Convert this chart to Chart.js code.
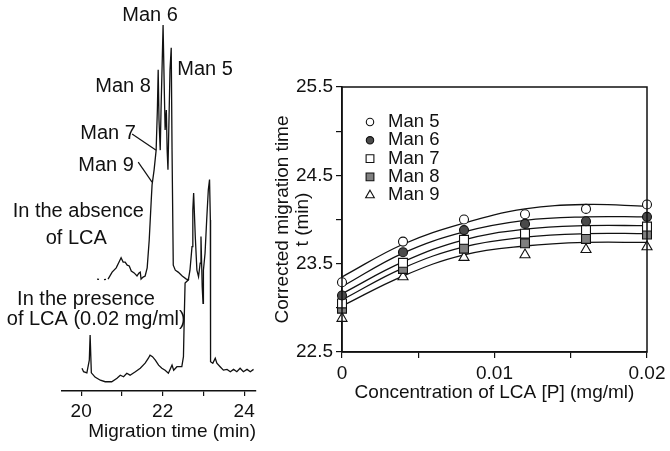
<!DOCTYPE html>
<html>
<head>
<meta charset="utf-8">
<script src="https://cdn.jsdelivr.net/npm/chart.js@4.4.0/dist/chart.umd.min.js"></script>
<style>
  html, body { margin: 0; padding: 0; background: #fff; }
  #left { position: absolute; left: 0; top: 0; width: 270px; height: 451px; }
  #right { position: absolute; left: 270px; top: 0; width: 400px; height: 451px; }
</style>
</head>
<body>
<div id="left"><canvas id="elect"></canvas></div>
<div id="right"><canvas id="fit"></canvas></div>
<script>
// --- left panel: electropherograms (signal in arbitrary units) ---
var absenceTime = [20.39, 20.54, 20.66, 20.76, 20.86, 20.93, 20.98, 21.03, 21.08, 21.13, 21.18, 21.23, 21.30, 21.37, 21.42, 21.45, 21.47, 21.52, 21.57, 21.62, 21.67, 21.72, 21.74, 21.79, 21.84, 21.87, 21.89, 21.91, 21.94, 21.96, 21.99, 22.01, 22.04, 22.06, 22.09, 22.11, 22.13, 22.16, 22.18, 22.21, 22.23, 22.26, 22.31, 22.38, 22.48, 22.58, 22.65];
var absenceSignal = [29.0, 28.8, 29.0, 30.8, 31.9, 33.4, 34.5, 33.4, 33.4, 32.6, 32.4, 31.1, 30.6, 29.8, 30.6, 30.8, 29.0, 29.5, 29.8, 31.9, 39.1, 49.5, 53.4, 57.3, 62.4, 72.8, 83.2, 70.2, 62.4, 72.8, 85.8, 94.8, 78.0, 67.6, 72.8, 62.4, 57.3, 72.8, 83.2, 88.9, 62.4, 32.6, 31.3, 30.8, 29.8, 29.0, 28.8];

var presenceTime = [20.02, 20.06, 20.14, 20.20, 20.22, 20.25, 20.30, 20.34, 20.47, 20.59, 20.75, 20.88, 20.96, 21.04, 21.12, 21.20, 21.33, 21.45, 21.57, 21.65, 21.69, 21.75, 21.82, 21.90, 21.98, 22.06, 22.14, 22.23, 22.27, 22.35, 22.47, 22.51, 22.53, 22.55, 22.63, 22.67, 22.72, 22.74, 22.76, 22.80, 22.84, 22.88, 22.92, 22.94, 22.97, 22.99, 23.00, 23.04, 23.08, 23.12, 23.15, 23.17, 23.17, 23.18, 23.23, 23.29, 23.33, 23.41, 23.49, 23.58, 23.66, 23.74, 23.82, 23.90, 23.98, 24.07, 24.15, 24.23];
var presenceSignal = [5.9, 5.0, 4.7, 8.0, 14.5, 4.7, 4.1, 3.6, 2.8, 2.4, 2.4, 3.3, 4.1, 3.7, 4.6, 4.1, 5.0, 5.9, 7.2, 8.5, 9.3, 8.9, 8.0, 6.7, 5.9, 5.4, 4.6, 6.7, 5.4, 6.3, 6.3, 8.9, 19.2, 28.0, 28.8, 31.3, 37.4, 46.9, 51.3, 40.0, 31.3, 29.6, 33.1, 40.0, 27.0, 22.7, 31.3, 35.7, 44.3, 52.1, 54.8, 44.3, 22.8, 7.6, 7.2, 8.5, 7.2, 6.3, 5.4, 5.6, 5.0, 5.6, 5.0, 5.9, 5.0, 5.6, 5.0, 5.6];

var timeTicks = [20, 21, 22, 23, 24];
var timeTickLabels = ['20', '', '22', '', '24'];

var noteTexts = ['Man 6', 'Man 5', 'Man 8', 'Man 7', 'Man 9', 'In the absence', 'of LCA', 'In the presence', 'of LCA (0.02 mg/ml)'];
var noteTime = [21.69, 23.04, 21.03, 20.66, 20.61, 19.93, 19.88, 20.12, 20.37];
var noteSignal = [97.2, 83.2, 78.8, 66.8, 58.5, 46.6, 39.6, 23.6, 18.4];
// pointers from "Man 7" and "Man 9" to their shoulders
var pointerStart = [[21.25, 66.6], [21.40, 59.3]];
var pointerEnd = [[21.84, 62.4], [21.74, 54.1]];

// --- right panel: corrected migration time vs LCA concentration ---
var lcaConc = [0, 0.004, 0.008, 0.012, 0.016, 0.02];
var seriesNames = ['Man 5', 'Man 6', 'Man 7', 'Man 8', 'Man 9'];
var man5 = [23.29, 23.75, 24.00, 24.06, 24.12, 24.17];
var man6 = [23.14, 23.63, 23.88, 23.95, 23.98, 24.03];
var man7 = [23.05, 23.51, 23.77, 23.84, 23.88, 23.92];
var man8 = [22.99, 23.44, 23.67, 23.73, 23.78, 23.83];
var man9 = [22.88, 23.35, 23.57, 23.60, 23.66, 23.69];
// fitted curves
var fit5 = [23.35, 23.72, 23.96, 24.12, 24.17, 24.15];
var fit6 = [23.24, 23.62, 23.86, 23.99, 24.03, 24.03];
var fit7 = [23.16, 23.52, 23.77, 23.89, 23.93, 23.93];
var fit8 = [23.09, 23.45, 23.69, 23.80, 23.84, 23.84];
var fit9 = [23.02, 23.36, 23.60, 23.70, 23.74, 23.74];

var concTicks = [0, 0.005, 0.01, 0.015, 0.02];
var concTickLabels = ['0', '', '0.01', '', '0.02'];
var timeAxisTicks = [22.5, 23, 23.5, 24, 24.5, 25, 25.5];
var timeAxisLabels = ['22.5', '', '23.5', '', '24.5', '', '25.5'];

var FONT = '"Liberation Sans", Arial, sans-serif';
var INK = '#111';
Chart.defaults.font.family = FONT;
Chart.defaults.color = INK;

function pts(xs, ys) {
  return xs.map(function(x, i) { return { x: x, y: ys[i] }; });
}

// labels + pointer lines on the electropherograms
var traceNotes = {
  id: 'traceNotes',
  afterDatasetsDraw: function(chart) {
    var ctx = chart.ctx, xs = chart.scales.x, ys = chart.scales.y;
    ctx.save();
    ctx.fillStyle = INK;
    ctx.font = '20px ' + FONT;
    ctx.textAlign = 'center';
    ctx.textBaseline = 'middle';
    noteTexts.forEach(function(t, i) {
      ctx.fillText(t, xs.getPixelForValue(noteTime[i]), ys.getPixelForValue(noteSignal[i]));
    });
    ctx.strokeStyle = INK;
    ctx.lineWidth = 1.2;
    pointerStart.forEach(function(p, i) {
      ctx.beginPath();
      ctx.moveTo(xs.getPixelForValue(p[0]), ys.getPixelForValue(p[1]));
      ctx.lineTo(xs.getPixelForValue(pointerEnd[i][0]), ys.getPixelForValue(pointerEnd[i][1]));
      ctx.stroke();
    });
    ctx.restore();
  }
};

new Chart(document.getElementById('elect'), {
  type: 'line',
  data: {
    datasets: [{
      data: pts(absenceTime, absenceSignal),
      borderColor: INK, borderWidth: 1.3, pointRadius: 0, tension: 0,
      segment: { borderDash: function(c) { return c.p0DataIndex < 2 ? [2, 5] : undefined; } }
    }, {
      data: pts(presenceTime, presenceSignal),
      borderColor: INK, borderWidth: 1.3, pointRadius: 0, tension: 0
    }]
  },
  options: {
    responsive: true, maintainAspectRatio: false, animation: false, devicePixelRatio: 1,
    layout: { padding: { left: 62, right: 14, top: 5, bottom: 0 } },
    plugins: { legend: { display: false }, tooltip: { enabled: false } },
    scales: {
      x: {
        type: 'linear', min: 19.53, max: 24.29,
        afterBuildTicks: function(s) { s.ticks = timeTicks.map(function(v) { return { value: v }; }); },
        afterFit: function(s) { s.height = 60; },
        border: { display: true, color: INK, width: 1.5 },
        grid: { drawOnChartArea: false, drawTicks: true, tickLength: 5, color: INK, lineWidth: 1.2 },
        ticks: {
          padding: 4, maxRotation: 0, autoSkip: false, font: { size: 19 },
          callback: function(v, i) { return timeTickLabels[i]; }
        },
        title: { display: true, text: 'Migration time (min)', align: 'end', font: { size: 19 }, padding: { top: 0, bottom: 8 } }
      },
      y: { display: false, min: 0, max: 100 }
    }
  },
  plugins: [traceNotes]
});

// box around the plot and the in-plot legend
var boxAndLegend = {
  id: 'boxAndLegend',
  afterDraw: function(chart) {
    var ctx = chart.ctx, a = chart.chartArea;
    ctx.save();
    ctx.strokeStyle = INK;
    ctx.lineWidth = 1.5;
    ctx.strokeRect(a.left, a.top, a.right - a.left, a.bottom - a.top);
    ctx.font = '18.5px ' + FONT;
    ctx.textAlign = 'left';
    ctx.textBaseline = 'middle';
    for (var i = 0; i < seriesNames.length; i++) {
      var ds = chart.data.datasets[i];
      var px = a.left + 28, py = a.top + 35 + i * 18.3;
      ctx.fillStyle = ds.pointBackgroundColor;
      ctx.strokeStyle = INK;
      ctx.lineWidth = 1.1;
      Chart.helpers.drawPoint(ctx, { pointStyle: ds.pointStyle, radius: ds.pointRadius - 0.8, rotation: 0, borderWidth: 1.1 }, px, py);
      ctx.fillStyle = INK;
      ctx.fillText(seriesNames[i], a.left + 46, py);
    }
    ctx.restore();
  }
};

var markerStyle = [
  { style: 'circle', fill: '#ffffff', r: 4.5 },
  { style: 'circle', fill: '#4a4a4a', r: 4.5 },
  { style: 'rect', fill: '#ffffff', r: 6.3 },
  { style: 'rect', fill: '#808080', r: 6.3 },
  { style: 'triangle', fill: '#ffffff', r: 5.8 }
];
var pointSeries = [man5, man6, man7, man8, man9];
var fitSeries = [fit5, fit6, fit7, fit8, fit9];

var datasets = [];
pointSeries.forEach(function(s, i) {
  datasets.push({
    type: 'scatter', label: seriesNames[i], data: pts(lcaConc, s),
    pointStyle: markerStyle[i].style, pointRadius: markerStyle[i].r,
    pointBackgroundColor: markerStyle[i].fill, pointBorderColor: INK, pointBorderWidth: 1.1,
    clip: false
  });
});
fitSeries.forEach(function(s, i) {
  datasets.push({
    type: 'line', label: seriesNames[i] + ' fit', data: pts(lcaConc, s),
    borderColor: INK, borderWidth: 1.3, pointRadius: 0, fill: false,
    tension: 0.4
  });
});

new Chart(document.getElementById('fit'), {
  type: 'scatter',
  data: { datasets: datasets },
  options: {
    responsive: true, maintainAspectRatio: false, animation: false, devicePixelRatio: 1,
    layout: { padding: { left: 0, right: 23, top: 87, bottom: 39 } },
    plugins: { legend: { display: false }, tooltip: { enabled: false } },
    scales: {
      x: {
        type: 'linear', min: 0, max: 0.02,
        afterBuildTicks: function(s) { s.ticks = concTicks.map(function(v) { return { value: v }; }); },
        afterFit: function(s) { s.height = 60; },
        border: { display: true, color: INK, width: 1.5 },
        grid: { drawOnChartArea: false, drawTicks: true, tickLength: 6, color: INK, lineWidth: 1.2 },
        ticks: {
          padding: 4, maxRotation: 0, autoSkip: false, font: { size: 19 },
          callback: function(v, i) { return concTickLabels[i]; }
        },
        title: { display: true, text: 'Concentration of LCA [P] (mg/ml)', font: { size: 19 }, padding: { top: 0, bottom: 8 } }
      },
      y: {
        type: 'linear', min: 22.5, max: 25.5,
        afterBuildTicks: function(s) { s.ticks = timeAxisTicks.map(function(v) { return { value: v }; }); },
        afterFit: function(s) { s.width = 72; },
        border: { display: true, color: INK, width: 1.5 },
        grid: { drawOnChartArea: false, drawTicks: true, tickLength: 6, color: INK, lineWidth: 1.2 },
        ticks: {
          padding: 3, autoSkip: false, font: { size: 19 },
          callback: function(v, i) { return timeAxisLabels[i]; }
        },
        title: {
          display: true, text: ['Corrected migration time', 't (min)'],
          font: { size: 19, lineHeight: 1.05 }, padding: { top: 3, bottom: 0 }
        }
      }
    }
  },
  plugins: [boxAndLegend]
});
</script>
</body>
</html>
